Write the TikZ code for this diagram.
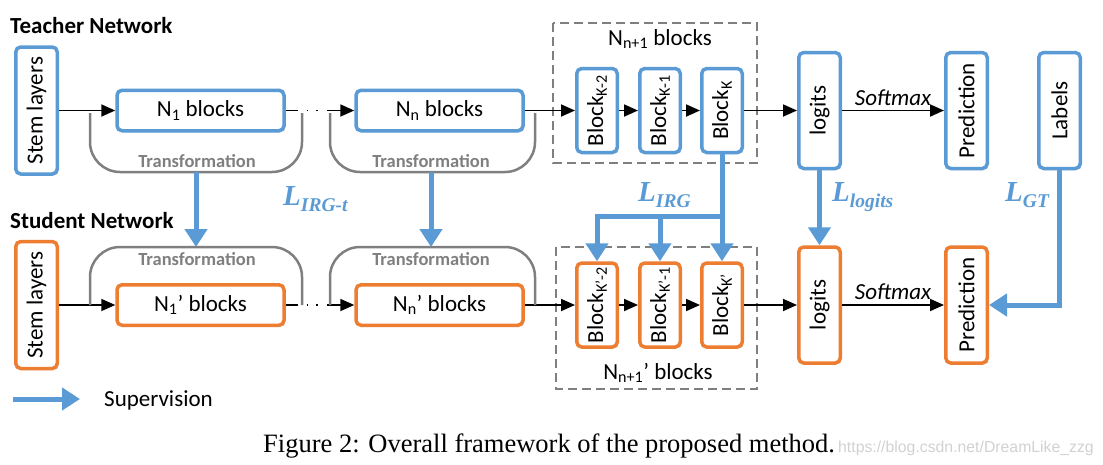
\documentclass[tikz,border=0pt]{standalone}
\usepackage{fontspec}
\usepackage{graphicx}
\setmainfont{Carlito}
\newfontfamily\capfont{Liberation Serif}
\newfontfamily\urlfont{Liberation Sans}
\usetikzlibrary{calc,arrows.meta,shadows}
\definecolor{tblue}{HTML}{5B9BD5}
\definecolor{sorange}{HTML}{ED7D31}
\definecolor{tgray}{HTML}{7F7F7F}
\newcommand{\mainsize}{\fontsize{23}{27}\selectfont}
\newcommand{\lossname}[1]{{\fontsize{29}{30}\selectfont L}\raisebox{-6pt}{\fontsize{19.5}{20}\selectfont #1}}
\tikzset{box/.style={line width=3.5pt,rounded corners=5pt,fill=white,inner sep=0pt,
drop shadow={shadow xshift=1.5pt,shadow yshift=-1.5pt,opacity=.25,fill=black!60}},
tb/.style={box,draw=tblue},sb/.style={box,draw=sorange}}

\begin{document}
\begin{tikzpicture}[x=1pt,y=-1pt,font=\mainsize,
		hblock/.style={minimum width=167pt,minimum height=40.5pt},
		vblock/.style={minimum width=40.5pt,minimum height=84pt},
		vbar/.style={minimum width=41.5pt,minimum height=#1},
		flow/.style={-{Triangle[length=14pt,width=12pt]},line width=1.8pt},
		sup/.style={-{Triangle[length=18pt,width=22pt]},line width=5pt,draw=tblue},
		bracket/.style={draw=tgray,line width=2.5pt,rounded corners=30pt},
		trlabel/.style={font=\fontsize{18.5}{20}\selectfont\bfseries,text=tgray,inner sep=0pt},
		frame/.style={draw=tgray,line width=1.6pt,dash pattern=on 9pt off 5pt},
		loss/.style={font=\capfont\bfseries\itshape,text=tblue,inner sep=0pt,anchor=base west}]
	\useasboundingbox (0,0) rectangle (1103,464);

	% teacher
	\node[anchor=base west,inner sep=0pt,font=\mainsize\bfseries] (tname) at (10,33) {Teacher Network};
	\node[tb,vbar=127pt] (stemT) at (36.5,110.5) {\rotatebox{90}{Stem layers}};
	\node[tb,hblock] (nT1) at (200.5,110.5) {N\textsubscript{1} blocks};
	\node[tb,hblock] (nTn) at (439.5,110.5) {N\textsubscript{n} blocks};
	\draw[frame] (553,23) rectangle (757,163);
	\node (ftlab) at (660,39) {N\textsubscript{n+1} blocks};
	\foreach \x/\k [count=\i] in {597/{K-2},660/{K-1},722/K}
		\node[tb,vblock] (bkT\i) at (\x,110.5) {\rotatebox{90}{Block\textsubscript{\k}}};
	\node[tb,vbar=116pt] (logT) at (819.5,110.5) {\rotatebox{90}{logits}};
	\node[tb,vbar=116pt] (predT) at (966.5,110.5) {\rotatebox{90}{Prediction}};
	\node[tb,vbar=116pt] (labT) at (1059.5,110.5) {\rotatebox{90}{Labels}};

	\draw[flow] (stemT) -- (nT1);
	\draw[flow,dash pattern=on 12pt off 9pt on 1.5pt off 8pt on 1.5pt off 9pt on 80pt] (nT1) -- (nTn);
	\draw[flow] (nTn) -- (bkT1);
	\draw[flow] (bkT1) -- (bkT2);
	\draw[flow] (bkT2) -- (bkT3);
	\draw[flow] (bkT3) -- (logT);
	\draw[flow] (logT) -- node[above,inner sep=4pt,font=\mainsize\itshape] (smT) {Softmax} (predT);

	\draw[bracket] (90,113) -- (90,172) -- (302,172) -- (302,113);
	\draw[bracket] (330,113) -- (330,172) -- (535,172) -- (535,113);
	\node[trlabel] (trTlab1) at (197,161) {Transformation};
	\node[trlabel] (trTlab2) at (431,161) {Transformation};

	% student
	\node[anchor=base west,inner sep=0pt,font=\mainsize\bfseries] (sname) at (10,228) {Student Network};
	\node[sb,vbar=127pt] (stemS) at (36.5,305) {\rotatebox{90}{Stem layers}};
	\node[sb,hblock] (nS1) at (200.5,305) {N\textsubscript{1}’ blocks};
	\node[sb,hblock] (nSn) at (439.5,305) {N\textsubscript{n}’ blocks};
	\draw[frame] (556,247) rectangle (757,389);
	\node (fslab) at (658,373) {N\textsubscript{n+1}’ blocks};
	\foreach \x/\k [count=\i] in {597/{K’-2},660/{K’-1},722/K’}
		\node[sb,vblock] (bkS\i) at (\x,305) {\rotatebox{90}{Block\textsubscript{\k}}};
	\node[sb,vbar=116pt] (logS) at (819.5,305) {\rotatebox{90}{logits}};
	\node[sb,vbar=116pt] (predS) at (966.5,305) {\rotatebox{90}{Prediction}};

	\draw[flow] (stemS) -- (nS1);
	\draw[flow,dash pattern=on 12pt off 9pt on 1.5pt off 8pt on 1.5pt off 9pt on 80pt] (nS1) -- (nSn);
	\draw[flow] (nSn) -- (bkS1);
	\draw[flow] (bkS1) -- (bkS2);
	\draw[flow] (bkS2) -- (bkS3);
	\draw[flow] (bkS3) -- (logS);
	\draw[flow] (logS) -- node[above,inner sep=4pt,font=\mainsize\itshape] (smS) {Softmax} (predS);

	\draw[bracket] (90,305) -- (90,247) -- (302,247) -- (302,305);
	\draw[bracket] (330,305) -- (330,247) -- (535,247) -- (535,305);
	\node[trlabel] (trSlab1) at (197,259) {Transformation};
	\node[trlabel] (trSlab2) at (431,259) {Transformation};

	% supervision
	\coordinate (trT1) at (196,172);
	\coordinate (trS1) at (196,247);
	\coordinate (trT2) at (431,172);
	\coordinate (trS2) at (431,247);
	\coordinate (irg) at (0,216);
	\draw[sup] (trT1) -- (trS1);
	\draw[sup] (trT2) -- (trS2);
	\draw[sup] (bkT3.south) -- (bkS3.north);
	\draw[sup] (bkT3.south |- irg) -| (bkS1.north);
	\draw[sup] (bkS2.north |- irg) -- (bkS2.north);
	\draw[sup] (logT) -- (logS);
	\draw[sup] (labT.south) |- (predS.east);

	\node[loss] (lirgt) at (283,205) {\lossname{IRG-t}};
	\node[loss] (lirg) at (638,201) {\lossname{IRG}};
	\node[loss] (llog) at (832,201) {\lossname{logits}};
	\node[loss] (lgt) at (1005,201) {\lossname{GT}};

	\coordinate (supA) at (13,399);
	\coordinate (supB) at (80,399);
	\draw[sup] (supA) -- (supB);
	\node[anchor=west,inner sep=0pt] (suptext) at (104,400) {Supervision};

	\node[anchor=base west,inner sep=0pt,font=\capfont\fontsize{26.5}{30}\selectfont] (cap) at (263,452) {Figure 2: Overall framework of the proposed method.};
	\node[anchor=base west,inner sep=0pt,font=\urlfont\fontsize{15.8}{18}\selectfont,text=black!18] (url) at (838,452) {https://blog.csdn.net/DreamLike\_zzg};
\end{tikzpicture}
\end{document}
